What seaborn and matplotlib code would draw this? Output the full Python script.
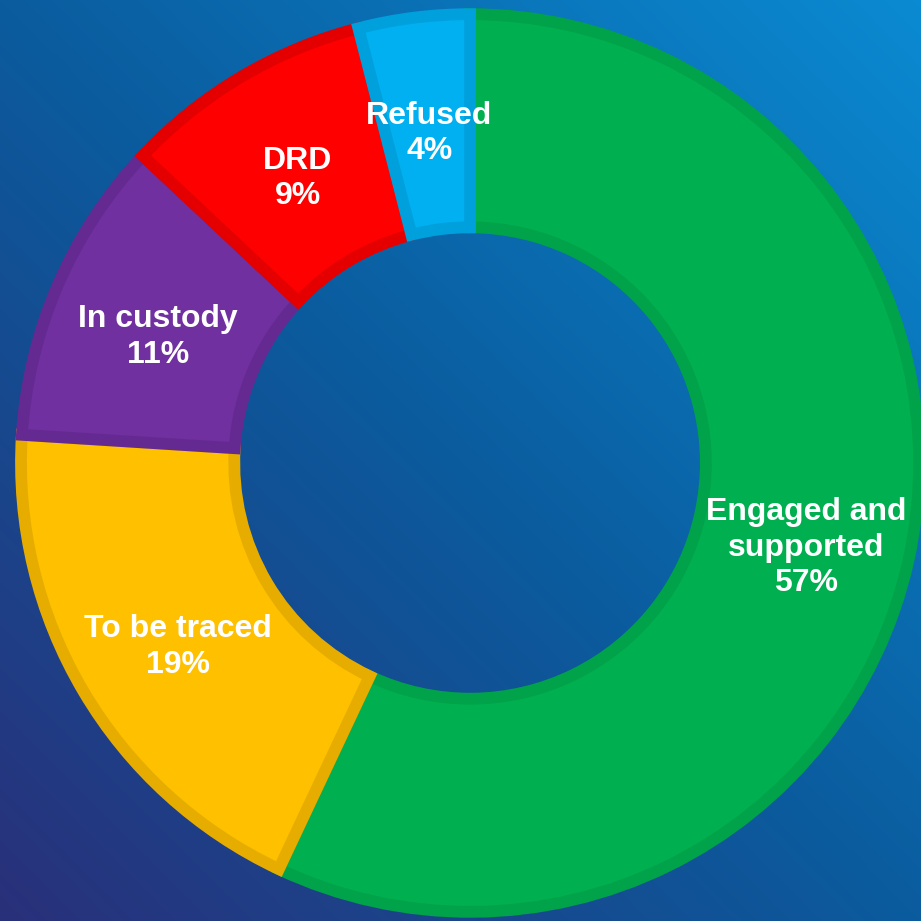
import matplotlib
matplotlib.use("Agg")
import matplotlib.pyplot as plt
from matplotlib.colors import LinearSegmentedColormap
import seaborn as sns
import numpy as np

# data, clockwise from 12 o'clock
categories = ["Engaged and\nsupported", "To be traced", "In custody", "DRD", "Refused"]
shares = [57, 19, 11, 9, 4]

fills = ["#00b050", "#ffc000", "#7030a0", "#ff0000", "#00b0f0"]
edges = ["#00a349", "#e6ad00", "#642a92", "#e40000", "#00a0dc"]

sns.set_style("white")
plt.rcParams["font.family"] = ["Liberation Sans", "DejaVu Sans"]

fig = plt.figure(figsize=(9.21, 9.21), dpi=100)

# gradient background: navy bottom-left -> bright blue top-right
bg = fig.add_axes([0, 0, 1, 1], zorder=0)
gx, gy = np.meshgrid(np.linspace(0, 1, 300), np.linspace(0, 1, 300))
grad = (gx + gy) / 2
cmap = LinearSegmentedColormap.from_list("bg", ["#29307a", "#0a5c9e", "#0a8ad2"])
bg.imshow(grad, cmap=cmap, origin="lower", extent=[0, 1, 0, 1], aspect="auto")
bg.set_axis_off()

ax = fig.add_axes([0, 0, 1, 1], zorder=1)
ax.patch.set_alpha(0)

# stroke is centred on the path, so pull the ring in by half the line width
half = 6 / 455
wedges, _ = ax.pie(shares, colors=fills, startangle=90, counterclock=False,
                   radius=1.0 - half,
                   wedgeprops=dict(width=0.495 - 2 * half, linewidth=8.5))
for w, ec in zip(wedges, edges):
    w.set_edgecolor(ec)
    w.set_joinstyle("miter")

r_mid = 1.0 - 0.495 / 2
for w, cat, s in zip(wedges, categories, shares):
    ang = np.deg2rad((w.theta1 + w.theta2) / 2)
    ax.text(r_mid * np.cos(ang) + 0.005, r_mid * np.sin(ang) - 0.022, f"{cat}\n{s}%",
            ha="center", va="center", color="white", fontsize=23,
            fontweight="bold", linespacing=1.25)

ax.set_xlim(-1.033, 0.991)
ax.set_ylim(-1.007, 1.018)
ax.set_aspect("auto")
ax.set_axis_off()

fig.savefig("out.png", dpi=100)
